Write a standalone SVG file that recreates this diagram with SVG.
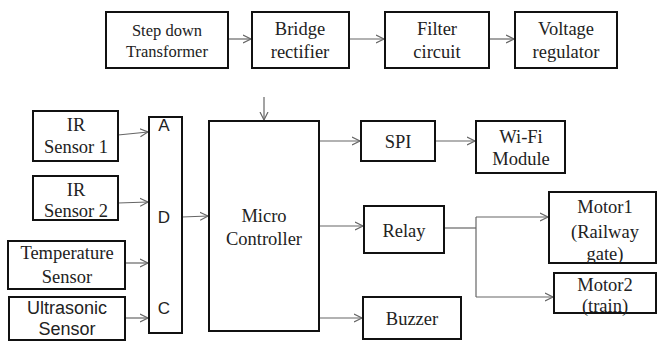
<svg xmlns="http://www.w3.org/2000/svg" width="657" height="341" viewBox="0 0 657 341">
<style>
.box{fill:#fff;stroke:#111;stroke-width:2}
.t{font-family:'Liberation Serif','Times New Roman',serif;font-size:18.5px;fill:#222;text-anchor:middle}
.s{font-family:'Liberation Sans',Arial,sans-serif;font-size:17px;fill:#222;text-anchor:middle}
.c{fill:none;stroke:#666;stroke-width:1.2}
</style>
<defs>
<marker id="ah" markerUnits="userSpaceOnUse" markerWidth="10" markerHeight="10" refX="8" refY="4" orient="auto" viewBox="0 0 10 8">
<path d="M0,0 L8,4 L0,8" fill="none" stroke="#666" stroke-width="1.2"/>
</marker>
</defs>
<rect width="657" height="341" fill="#fff"/>
<g id="connectors">
<line class="c" x1="228" y1="39" x2="251" y2="39" marker-end="url(#ah)"/>
<line class="c" x1="349" y1="39" x2="384" y2="39" marker-end="url(#ah)"/>
<line class="c" x1="489" y1="39" x2="514" y2="39" marker-end="url(#ah)"/>
<line class="c" x1="118" y1="135" x2="148" y2="132" marker-end="url(#ah)"/>
<line class="c" x1="118" y1="203" x2="148" y2="202" marker-end="url(#ah)"/>
<line class="c" x1="125" y1="263" x2="148" y2="263" marker-end="url(#ah)"/>
<line class="c" x1="125" y1="318" x2="148" y2="318" marker-end="url(#ah)"/>
<line class="c" x1="182" y1="217" x2="208" y2="216" marker-end="url(#ah)"/>
<line class="c" x1="264" y1="97" x2="264" y2="120" marker-end="url(#ah)"/>
<line class="c" x1="309" y1="141" x2="360" y2="141" marker-end="url(#ah)"/>
<line class="c" x1="435" y1="141" x2="475" y2="141" marker-end="url(#ah)"/>
<line class="c" x1="319" y1="226" x2="363" y2="226" marker-end="url(#ah)"/>
<line class="c" x1="309" y1="318" x2="362" y2="318" marker-end="url(#ah)"/>
<polyline class="c" points="444,228 476,228"/>
<polyline class="c" points="476,217 476,297"/>
<line class="c" x1="476" y1="217" x2="548" y2="217" marker-end="url(#ah)"/>
<line class="c" x1="476" y1="297" x2="553" y2="297" marker-end="url(#ah)"/>
</g>
<g id="stepdown">
<rect class="box" x="106" y="12" width="122" height="56"/>
<text class="t" style="font-size:16.5px" x="167" y="36">Step down</text>
<text class="t" style="font-size:16.5px" x="167" y="57">Transformer</text>
</g>
<g id="bridge">
<rect class="box" x="252" y="12" width="97" height="56"/>
<text class="t" x="300" y="35">Bridge</text>
<text class="t" x="300" y="58">rectifier</text>
</g>
<g id="filter">
<rect class="box" x="385" y="12" width="104" height="56"/>
<text class="t" x="437" y="35">Filter</text>
<text class="t" x="437" y="58">circuit</text>
</g>
<g id="regulator">
<rect class="box" x="515" y="12" width="102" height="56"/>
<text class="t" x="566" y="35">Voltage</text>
<text class="t" x="566" y="58">regulator</text>
</g>
<g id="ir1">
<rect class="box" x="33" y="111" width="85" height="50"/>
<text class="t" x="76" y="131">IR</text>
<text class="t" x="76" y="153">Sensor 1</text>
</g>
<g id="ir2">
<rect class="box" x="33" y="176" width="85" height="44"/>
<text class="t" x="76" y="196">IR</text>
<text class="t" x="76" y="217">Sensor 2</text>
</g>
<g id="temp">
<rect class="box" x="8" y="241" width="117" height="48"/>
<text class="t" x="67" y="259">Temperature</text>
<text class="t" x="67" y="283">Sensor</text>
</g>
<g id="ultra">
<rect class="box" x="9" y="297" width="116" height="43"/>
<text class="s" style="font-size:18px" x="67" y="314">Ultrasonic</text>
<text class="s" style="font-size:18px" x="67" y="335">Sensor</text>
</g>
<g id="adc">
<rect class="box" x="149" y="117" width="33" height="216"/>
<text class="s" x="164" y="131">A</text>
<text class="s" x="164" y="223">D</text>
<text class="s" x="164" y="314">C</text>
</g>
<g id="mcu">
<rect class="box" x="209" y="121" width="110" height="210"/>
<text class="t" x="264" y="222">Micro</text>
<text class="t" x="264" y="245">Controller</text>
</g>
<g id="spi">
<rect class="box" x="361" y="121" width="74" height="40"/>
<text class="t" x="398" y="148">SPI</text>
</g>
<g id="wifi">
<rect class="box" x="476" y="121" width="89" height="52"/>
<text class="t" x="521" y="143">Wi-Fi</text>
<text class="t" x="521" y="165">Module</text>
</g>
<g id="relay">
<rect class="box" x="364" y="206" width="80" height="47"/>
<text class="t" x="404" y="237">Relay</text>
</g>
<g id="buzzer">
<rect class="box" x="363" y="297" width="98" height="42"/>
<text class="t" x="412" y="325">Buzzer</text>
</g>
<g id="motor1">
<rect class="box" x="549" y="192" width="107" height="71"/>
<text class="t" x="605" y="213">Motor1</text>
<text class="t" x="605" y="238">(Railway</text>
<text class="t" x="605" y="260">gate)</text>
</g>
<g id="motor2">
<rect class="box" x="554" y="273" width="102" height="40"/>
<text class="t" x="605" y="291">Motor2</text>
<text class="t" x="605" y="312">(train)</text>
</g>
</svg>
